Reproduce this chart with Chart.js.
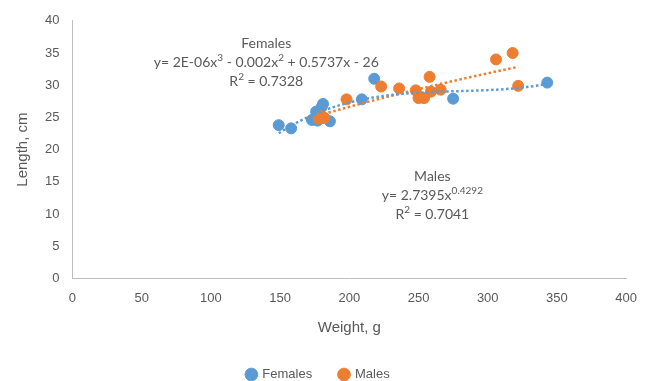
<!DOCTYPE html>
<html>
<head>
<meta charset="utf-8">
<script src="https://cdn.jsdelivr.net/npm/chart.js@4.4.1/dist/chart.umd.min.js"></script>
<style>
  html, body { margin: 0; padding: 0; background: #fff; }
  #wrap { width: 649px; height: 381px; }
</style>
</head>
<body>
<div id="wrap"><canvas id="lengthChart" width="649" height="381"></canvas></div>
<script>
// Weight (g) and length (cm)
const femaleWeight = [149, 158, 173, 177, 176, 180, 181, 180, 186, 209, 218, 275, 343];
const femaleLength = [23.8, 23.3, 24.6, 24.5, 25.9, 26.6, 27.1, 25.0, 24.4, 27.8, 31.0, 27.9, 30.4];
const maleWeight = [178, 180, 182, 198, 223, 236, 248, 250, 254, 258, 259, 266, 306, 318, 322];
const maleLength = [24.8, 25.2, 24.9, 27.8, 29.8, 29.5, 29.2, 28.0, 28.0, 31.3, 29.0, 29.3, 34.0, 35.0, 29.9];

// Axis ticks
const xTicks = [0, 50, 100, 150, 200, 250, 300, 350, 400];
const yTicks = [0, 5, 10, 15, 20, 25, 30, 35, 40];

// Trendline labels as printed on the chart
const femaleFitLabel = [["y= 2E-06x"], ["3", "sup"], [" - 0.002x"], ["2", "sup"], [" + 0.5737x - 26"]];
const femaleR2 = "0.7328";
const maleFitLabel = [["y= 2.7395x"], ["0.4292", "sup"]];
const maleR2 = "0.7041";

const blue = "#5B9BD5";
const orange = "#ED7D31";
const grey = "#595959";

// Least squares polynomial fit, x centred for stability
function polyFit(xs, ys, order) {
    const mean = xs.reduce((a, b) => a + b, 0) / xs.length;
    const n = order + 1;
    const A = [];
    for (let i = 0; i < n; i++) {
        A.push(new Array(n + 1).fill(0));
    }
    xs.forEach((x, k) => {
        const d = x - mean;
        for (let i = 0; i < n; i++) {
            for (let j = 0; j < n; j++) {
                A[i][j] += Math.pow(d, i + j);
            }
            A[i][n] += ys[k] * Math.pow(d, i);
        }
    });
    // gaussian elimination
    for (let c = 0; c < n; c++) {
        let p = c;
        for (let r = c + 1; r < n; r++) {
            if (Math.abs(A[r][c]) > Math.abs(A[p][c])) p = r;
        }
        [A[c], A[p]] = [A[p], A[c]];
        for (let r = 0; r < n; r++) {
            if (r === c) continue;
            const f = A[r][c] / A[c][c];
            for (let j = c; j <= n; j++) A[r][j] -= f * A[c][j];
        }
    }
    const coef = A.map((row, i) => row[n] / row[i]);
    return x => coef.reduce((s, c, i) => s + c * Math.pow(x - mean, i), 0);
}

// Power fit y = a*x^b through log-log regression
function powerFit(xs, ys) {
    const lx = xs.map(Math.log);
    const ly = ys.map(Math.log);
    const n = xs.length;
    const mx = lx.reduce((a, b) => a + b, 0) / n;
    const my = ly.reduce((a, b) => a + b, 0) / n;
    let sxy = 0, sxx = 0;
    lx.forEach((v, i) => {
        sxy += (v - mx) * (ly[i] - my);
        sxx += (v - mx) * (v - mx);
    });
    const b = sxy / sxx;
    const a = Math.exp(my - b * mx);
    return x => a * Math.pow(x, b);
}

function fitPoints(xs, fn) {
    const lo = Math.min(...xs);
    const hi = Math.max(...xs);
    const pts = [];
    for (let i = 0; i <= 80; i++) {
        const x = lo + (hi - lo) * i / 80;
        pts.push({ x: x, y: fn(x) });
    }
    return pts;
}

const toPoints = (xs, ys) => xs.map((x, i) => ({ x: x, y: ys[i] }));

// Draw the trendline equations next to the data
function drawRich(ctx, parts, cx, cy) {
    const big = "14px Lato";
    const small = "10px Lato";
    let width = 0;
    parts.forEach(p => {
        ctx.font = p[1] ? small : big;
        width += ctx.measureText(p[0]).width;
    });
    let x = cx - width / 2;
    ctx.textAlign = "left";
    parts.forEach(p => {
        ctx.font = p[1] ? small : big;
        ctx.fillText(p[0], x, p[1] ? cy - 5 : cy);
        x += ctx.measureText(p[0]).width;
    });
}

const labelPlugin = {
    id: "fitLabels",
    afterDatasetsDraw(chart) {
        const ctx = chart.ctx;
        const xs = chart.scales.x;
        const ys = chart.scales.y;
        ctx.save();
        ctx.fillStyle = grey;
        ctx.textBaseline = "middle";

        let cx = xs.getPixelForValue(140);
        let cy = ys.getPixelForValue(36.4);
        drawRich(ctx, [["Females"]], cx, cy);
        drawRich(ctx, femaleFitLabel, cx, cy + 19);
        drawRich(ctx, [["R"], ["2", "sup"], [" = " + femaleR2]], cx, cy + 38);

        cx = xs.getPixelForValue(260);
        cy = ys.getPixelForValue(15.8);
        drawRich(ctx, [["Males"]], cx, cy);
        drawRich(ctx, maleFitLabel, cx, cy + 19);
        drawRich(ctx, [["R"], ["2", "sup"], [" = " + maleR2]], cx, cy + 38);
        ctx.restore();
    }
};

const chart = new Chart(document.getElementById("lengthChart"), {
    type: "scatter",
    data: {
        datasets: [
            {
                label: "Females trend",
                type: "line",
                data: fitPoints(femaleWeight, polyFit(femaleWeight, femaleLength, 3)),
                borderColor: blue,
                borderWidth: 2.5,
                borderDash: [2.5, 2.5],
                pointRadius: 0,
                fill: false,
                order: 0
            },
            {
                label: "Males trend",
                type: "line",
                data: fitPoints(maleWeight, powerFit(maleWeight, maleLength)),
                borderColor: orange,
                borderWidth: 2.5,
                borderDash: [2.5, 2.5],
                pointRadius: 0,
                fill: false,
                order: 0
            },
            {
                label: "Females",
                data: toPoints(femaleWeight, femaleLength),
                backgroundColor: blue,
                borderColor: blue,
                pointRadius: 5.5,
                order: 2
            },
            {
                label: "Males",
                data: toPoints(maleWeight, maleLength),
                backgroundColor: orange,
                borderColor: orange,
                pointRadius: 5.5,
                order: 1
            }
        ]
    },
    options: {
        responsive: false,
        animation: false,
        layout: { padding: { left: 14, right: 12, top: 15, bottom: 0 } },
        plugins: {
            tooltip: { enabled: false },
            legend: {
                position: "bottom",
                maxHeight: 15,
                labels: {
                    usePointStyle: true,
                    pointStyle: "circle",
                    boxWidth: 9,
                    boxHeight: 9,
                    padding: 2,
                    color: grey,
                    font: { family: "Liberation Sans", size: 13 },
                    // only the two scatter series, with a wider gap between them
                    generateLabels: chart => {
                        const items = Chart.defaults.plugins.legend.labels.generateLabels(chart)
                            .filter(item => !item.text.includes("trend"))
                            .sort((a, b) => a.datasetIndex - b.datasetIndex);
                        items[0].text += "       ";
                        items[1].text += "    ";
                        return items;
                    }
                }
            }
        },
        scales: {
            x: {
                type: "linear",
                min: 0,
                max: 400,
                afterBuildTicks: axis => { axis.ticks = xTicks.map(v => ({ value: v })); },
                grid: { display: false, drawTicks: false },
                border: { color: "#BFBFBF", width: 1 },
                ticks: { color: grey, padding: 12, font: { family: "Liberation Sans", size: 13 } },
                title: {
                    display: true,
                    text: "Weight, g",
                    color: grey,
                    font: { family: "Liberation Sans", size: 15 },
                    padding: { top: 1, bottom: 29 }
                }
            },
            y: {
                min: 0,
                max: 40,
                afterBuildTicks: axis => { axis.ticks = yTicks.map(v => ({ value: v })); },
                grid: { display: false, drawTicks: false },
                border: { color: "#BFBFBF", width: 1 },
                ticks: { color: grey, padding: 13, font: { family: "Liberation Sans", size: 13 } },
                title: {
                    display: true,
                    text: "Length, cm",
                    color: grey,
                    font: { family: "Liberation Sans", size: 15 },
                    padding: { top: 0, bottom: 0 }
                }
            }
        }
    },
    plugins: [labelPlugin]
});
</script>
</body>
</html>
